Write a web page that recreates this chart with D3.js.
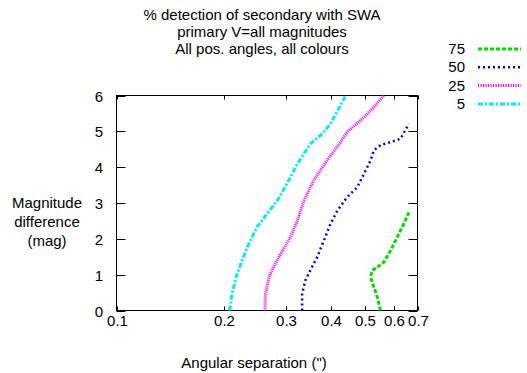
<!DOCTYPE html>
<html><head><meta charset="utf-8">
<script src="https://cdn.jsdelivr.net/npm/d3@7"></script>
<style>body{margin:0;background:#fff}svg{display:block}text{font-family:"Liberation Sans",Arial,sans-serif;fill:#000}</style>
</head><body><svg id="c" width="527" height="373"></svg>
<script>
const titleLines = ["% detection of secondary with SWA", "primary V=all magnitudes", "All pos. angles, all colours"];
const xTicks = [0.1, 0.2, 0.3, 0.4, 0.5, 0.6, 0.7];
const yTicks = [0, 1, 2, 3, 4, 5, 6];
const seriesNames = ["75", "50", "25", "5"];
const seriesColors = ["#00dd00", "#0000ee", "#ff00ff", "#00eeee"];
const s75x = [0.551, 0.540, 0.528, 0.517, 0.522, 0.540, 0.563, 0.588, 0.614, 0.641, 0.662];
const s75y = [0.00, 0.37, 0.65, 0.93, 1.12, 1.21, 1.35, 1.67, 2.05, 2.42, 2.74];
const s50x = [0.332, 0.332, 0.339, 0.350, 0.366, 0.382, 0.399, 0.417, 0.444, 0.474, 0.495, 0.517, 0.528, 0.551, 0.588, 0.627, 0.662];
const s50y = [0.00, 0.47, 0.84, 1.12, 1.49, 1.95, 2.42, 2.79, 3.16, 3.44, 3.81, 4.19, 4.47, 4.61, 4.70, 4.79, 5.21];
const s25x = [0.261, 0.262, 0.268, 0.276, 0.289, 0.308, 0.322, 0.336, 0.358, 0.390, 0.426, 0.444, 0.484, 0.528, 0.563];
const s25y = [0.00, 0.47, 0.93, 1.21, 1.58, 2.05, 2.51, 3.07, 3.63, 4.19, 4.70, 4.98, 5.30, 5.67, 6.00];
const s5x = [0.208, 0.211, 0.218, 0.233, 0.248, 0.265, 0.283, 0.301, 0.322, 0.350, 0.378, 0.399, 0.440];
const s5y = [0.00, 0.47, 1.02, 1.77, 2.33, 2.70, 3.07, 3.54, 4.09, 4.65, 4.93, 5.21, 6.00];

const seriesX = [s75x, s50x, s25x, s5x];
const seriesY = [s75y, s50y, s25y, s5y];
const dashes = ["4,2", "2,3", "1,1", "5,2,2,2"];
const legendDashes = ["4,2", "2,3", "1.2,1.3", "5,2,2,2"];
const widths = [3, 2.5, 3, 3];
const FS = 15;

const svg = d3.select("#c");
const L = 116.5, R = 417.5, T = 95.5, B = 310.5;
const x = d3.scaleLog().domain([0.1, 0.7]).range([L, R]);
const y = d3.scaleLinear().domain([0, 6]).range([B, T]);

titleLines.forEach((t, i) => svg.append("text").attr("x", 262).attr("y", 20 + i * 17)
  .attr("text-anchor", "middle").attr("font-size", FS).text(t));

svg.append("rect").attr("x", L).attr("y", T).attr("width", R - L).attr("height", B - T)
  .attr("fill", "none").attr("stroke", "#000").attr("stroke-width", 1);

const g = svg.append("g");
yTicks.forEach(v => {
  const yy = Math.round(y(v)) + 0.5;
  g.append("line").attr("x1", L).attr("x2", L + 9).attr("y1", yy).attr("y2", yy).attr("stroke", "#000");
  g.append("line").attr("x1", R - 9).attr("x2", R).attr("y1", yy).attr("y2", yy).attr("stroke", "#000");
  g.append("text").attr("x", 103).attr("y", yy + 5).attr("text-anchor", "end").attr("font-size", FS).text(v);
});
xTicks.forEach(v => {
  const xx = Math.round(x(v)) + 0.5;
  g.append("line").attr("x1", xx).attr("x2", xx).attr("y1", B).attr("y2", B - 4).attr("stroke", "#000");
  g.append("line").attr("x1", xx).attr("x2", xx).attr("y1", T).attr("y2", T + 4).attr("stroke", "#000");
  g.append("text").attr("x", xx).attr("y", 326).attr("text-anchor", "middle").attr("font-size", FS).text(v);
});

svg.append("text").attr("x", 254).attr("y", 368).attr("text-anchor", "middle").attr("font-size", FS).text("Angular separation (\")");
["Magnitude", "difference", "(mag)"].forEach((t, i) => svg.append("text").attr("x", 47).attr("y", 208 + i * 19)
  .attr("text-anchor", "middle").attr("font-size", FS).text(t));

const line = d3.line().x(d => x(d[0])).y(d => y(d[1]));
seriesNames.forEach((n, i) => {
  const pts = seriesX[i].map((v, j) => [v, seriesY[i][j]]);
  svg.append("path").attr("d", line(pts)).attr("fill", "none").attr("stroke", seriesColors[i])
    .attr("stroke-width", widths[i]).attr("stroke-dasharray", dashes[i]);
  const ly = 49 + i * 18.3;
  svg.append("text").attr("x", 465).attr("y", ly + 5).attr("text-anchor", "end").attr("font-size", FS).text(n);
  svg.append("line").attr("x1", 478).attr("x2", 521).attr("y1", ly).attr("y2", ly).attr("stroke", seriesColors[i])
    .attr("stroke-width", widths[i]).attr("stroke-dasharray", legendDashes[i]);
});
</script></body></html>
